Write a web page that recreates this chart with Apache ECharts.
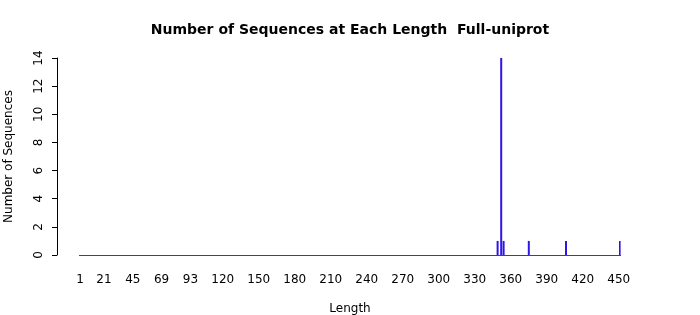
<!DOCTYPE html>
<html>
<head>
<meta charset="utf-8">
<script src="https://cdn.jsdelivr.net/npm/echarts@6/dist/echarts.min.js"></script>
<style>html,body{margin:0;padding:0;background:#fff}#c{width:700px;height:315px}</style>
</head>
<body>
<div id="c"></div>
<script>
var minLength = 1;
var maxLength = 451;
var barLengths = [349, 352, 354, 375, 406, 451];
var barCounts = [1, 14, 1, 1, 1, 1];
var xTickLabels = [1, 21, 45, 69, 93, 120, 150, 180, 210, 240, 270, 300, 330, 360, 390, 420, 450];
var yTicks = [0, 2, 4, 6, 8, 10, 12, 14];

var categories = [];
var values = [];
for (var L = minLength; L <= maxLength; L++) {
  categories.push(String(L));
  var k = barLengths.indexOf(L);
  values.push(k >= 0 ? barCounts[k] : 0);
}
var tickSet = {};
xTickLabels.forEach(function (t) { tickSet[String(t)] = true; });

var font = 'DejaVu Sans';
var chart = echarts.init(document.getElementById('c'), null, {renderer: 'canvas'});
chart.setOption({
  animation: false,
  backgroundColor: '#ffffff',
  title: {
    text: 'Number of Sequences at Each Length  Full-uniprot',
    left: 'center',
    top: 18,
    textStyle: {fontFamily: font, fontWeight: 'bold', fontSize: 14, color: '#000'}
  },
  grid: {left: 79.4, right: 79.4, top: 58, bottom: 60, containLabel: false, outerBoundsMode: 'none'},
  xAxis: {
    type: 'category',
    data: categories,
    name: 'Length',
    nameLocation: 'middle',
    nameGap: 48,
    nameTextStyle: {fontFamily: font, fontSize: 12, color: '#000'},
    axisLine: {show: true, lineStyle: {color: '#3a2ee6', width: 1}},
    axisTick: {show: false},
    axisLabel: {
      interval: function (idx, val) { return !!tickSet[val]; },
      margin: 19,
      fontFamily: font, fontSize: 12, color: '#000',
      hideOverlap: false
    },
    splitLine: {show: false}
  },
  yAxis: {
    type: 'value',
    min: 0, max: 14, interval: 2,
    offset: 22.4,
    name: 'Number of Sequences',
    nameLocation: 'middle',
    nameGap: 42,
    nameTextStyle: {fontFamily: font, fontSize: 12, color: '#000'},
    axisLine: {show: true, lineStyle: {color: '#000', width: 1}},
    axisTick: {show: true, length: 5, lineStyle: {color: '#000'}},
    axisLabel: {rotate: 90, margin: 12, fontFamily: font, fontSize: 12, color: '#000'},
    splitLine: {show: false}
  },
  series: [{
    type: 'bar',
    data: values,
    barWidth: 2,
    itemStyle: {color: '#2f14e6'},
    silent: true
  }]
});
</script>
</body>
</html>
